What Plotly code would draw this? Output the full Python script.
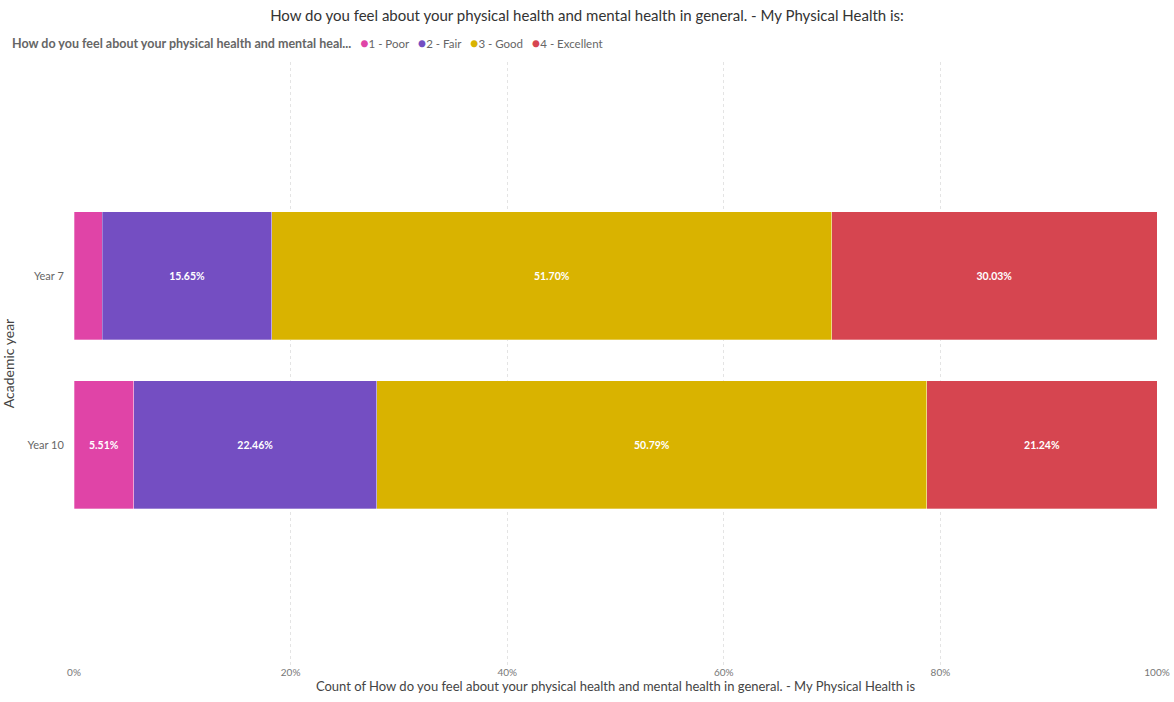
import plotly.graph_objects as go

categories = ["Year 7", "Year 10"]
series_names = ["1 - Poor", "2 - Fair", "3 - Good", "4 - Excellent"]
poor = [2.62, 5.51]
fair = [15.65, 22.46]
good = [51.70, 50.79]
excellent = [30.03, 21.24]
colors = ["#E044A7", "#744EC2", "#D9B300", "#D64550"]
tick_vals = [0, 20, 40, 60, 80, 100]
tick_text = ["0%", "20%", "40%", "60%", "80%", "100%"]
legend_title = "How do you feel about your physical health and mental heal..."

FONT = "Lato, 'Open Sans', sans-serif"
W, H = 1174, 702
ML, MR, MT, MB = 74, 17, 30, 37
plot_top_px = 62
paper_h = H - MT - MB
paper_w = W - ML - MR

fig = go.Figure()
for name, vals, col in zip(series_names, [poor, fair, good, excellent], colors):
    labels = [f"<b>{v:.2f}%</b>" if v >= 4 else "" for v in vals]
    fig.add_trace(go.Bar(
        y=categories, x=vals, name=name, orientation="h",
        marker=dict(color=col, line=dict(color="rgba(255,255,255,0.6)", width=0.5)),
        text=labels, textposition="inside", insidetextanchor="middle",
        textfont=dict(color="white", size=10.5, family=FONT),
        showlegend=False, width=0.757, hoverinfo="x+name",
    ))

legend_parts = [f"<b style='font-size:12.5px'>{legend_title}</b>&nbsp;&nbsp;&nbsp;"]
for name, col in zip(series_names, colors):
    legend_parts.append(f"<span style='color:{col}; font-size:14px'>●</span>{name}&nbsp;&nbsp;&nbsp;")
fig.add_annotation(
    text="".join(legend_parts), xref="paper", yref="paper",
    x=(10 - ML) / paper_w, y=(H - MB - 42) / paper_h,
    xanchor="left", yanchor="middle", showarrow=False, align="left",
    font=dict(size=11.5, color="#666666", family=FONT),
)

fig.update_layout(
    barmode="stack",
    width=W, height=H,
    margin=dict(l=ML, r=MR, t=MT, b=MB),
    paper_bgcolor="white", plot_bgcolor="white",
    font=dict(family=FONT, color="#666666", size=10),
    showlegend=False,
    title=dict(text="How do you feel about your physical health and mental health in general. - My Physical Health is:",
               x=0.5, xanchor="center", y=1 - 16 / H, yanchor="middle",
               font=dict(size=15, color="#333333", family=FONT)),
    xaxis=dict(range=[0, 100], tickvals=tick_vals, ticktext=tick_text,
               showgrid=True, gridcolor="#e4e4e4", griddash="dot", zeroline=False,
               automargin=False,
               title=dict(text="Count of How do you feel about your physical health and mental health in general. - My Physical Health is",
                          font=dict(size=13, color="#444444"), standoff=2),
               tickfont=dict(size=10, color="#777777"), fixedrange=True),
    yaxis=dict(categoryorder="array", categoryarray=categories,
               domain=[0, (H - MB - plot_top_px) / paper_h],
               range=[2.302, -1.266], showgrid=False, automargin=False,
               title=dict(text="Academic year", font=dict(size=14, color="#444444"), standoff=22),
               tickfont=dict(size=11, color="#666666"), ticks="outside",
               tickcolor="white", ticklen=7),
)

fig.write_html("out.html")
